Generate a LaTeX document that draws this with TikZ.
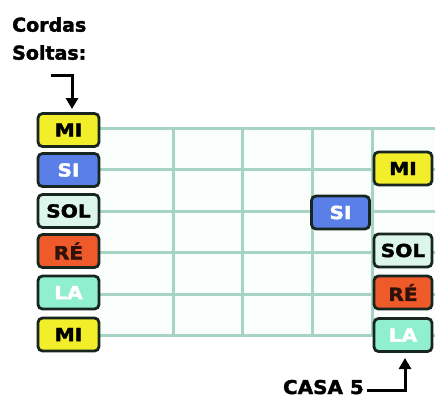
\documentclass[tikz,border=0pt]{standalone}
\usepackage{fontspec}
\setmainfont{DejaVu Sans}[BoldFeatures={FakeBold=2}]
\usetikzlibrary{arrows.meta}
\definecolor{gridc}{HTML}{A6D3C3}
\definecolor{bord}{HTML}{17261F}
\definecolor{yel}{HTML}{F2EE2A}
\definecolor{blu}{HTML}{5A7FE6}
\definecolor{solc}{HTML}{DDF6EA}
\definecolor{rec}{HTML}{EE5A2A}
\definecolor{lac}{HTML}{8FEFCE}
\tikzset{
  note/.style={draw=bord, line width=2.8pt, rounded corners=4.5pt, minimum height=33pt, inner sep=0pt, font=\bfseries\fontsize{18}{18}\selectfont},
  lnote/.style={note, minimum width=61pt},
  rnote/.style={note, minimum width=58pt},
  gridline/.style={draw=gridc, line width=3pt},
  label/.style={font=\bfseries\fontsize{19}{28}\selectfont, inner sep=0pt},
  pointer/.style={line width=3pt, -{Triangle[width=12pt,length=11pt]}}
}
\newcommand{\widetxt}[1]{\scalebox{1.12}[1]{#1}}
\begin{document}
\begin{tikzpicture}[x=1pt,y=-1pt]
\useasboundingbox (0,0) rectangle (435,399);
% grid
\fill[white!95!lac] (100,128) rectangle (435,335.5);
\foreach \y in {128,169.5,211,252.5,294,335.5}
  \draw[gridline] (100,\y) -- (435,\y);
\foreach \x in {173,242,312,372}
  \draw[gridline] (\x,128) -- (\x,335.5);
% left open strings
\node[lnote, fill=yel, text=black] (l1) at (68.5,130) {\widetxt{MI}};
\node[lnote, fill=blu, text=white] (l2) at (68.5,170) {\widetxt{SI}};
\node[lnote, fill=solc, text=black] (l3) at (68.5,211) {\widetxt{SOL}};
\node[lnote, fill=rec, text=black!80!rec] (l4) at (68.5,251) {\widetxt{RÉ}};
\node[lnote, fill=lac, text=white] (l5) at (68.5,292.5) {\widetxt{LA}};
\node[lnote, fill=yel, text=black] (l6) at (68.5,334.5) {\widetxt{MI}};
% fret 5
\node[rnote, fill=yel, text=black] (r1) at (403,168.5) {\widetxt{MI}};
\node[rnote, fill=blu, text=white] (r2) at (340.5,212.5) {\widetxt{SI}};
\node[rnote, fill=solc, text=black] (r3) at (403,250.5) {\widetxt{SOL}};
\node[rnote, fill=rec, text=black!80!rec] (r4) at (403,292.5) {\widetxt{RÉ}};
\node[rnote, fill=lac, text=white] (r5) at (403,335) {\widetxt{LA}};
% labels
\node[label, anchor=north west, align=left] (cs) at (12,17) {Cordas\\Soltas:};
\coordinate (a1) at (51,75);
\coordinate (a1t) at (72,109);
\draw[pointer] (a1) -- (a1 -| a1t) -- (a1t);
\node[label, anchor=base east] (casa) at (364,394) {\scalebox{1.05}[1]{CASA 5}};
\coordinate (a2) at (405,390);
\coordinate (a2t) at (405,358);
\draw[pointer] ([xshift=3pt]casa.east |- a2) -- (a2) -- (a2t);
\end{tikzpicture}
\end{document}
